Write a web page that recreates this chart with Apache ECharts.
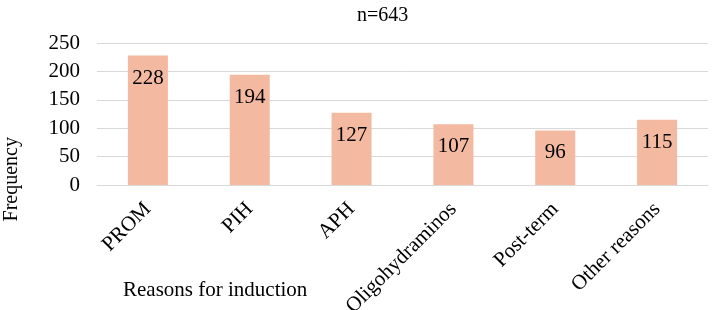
<!DOCTYPE html>
<html>
<head>
<meta charset="utf-8">
<script src="https://cdn.jsdelivr.net/npm/echarts@6/dist/echarts.min.js"></script>
<style>
  html, body { margin: 0; padding: 0; background: #fff; }
  #box { width: 712px; height: 310px; }
</style>
</head>
<body>
<div id="box"></div>
<script>
var categories = ["PROM", "PIH", "APH", "Oligohydraminos", "Post-term", "Other reasons"];
var frequency = [228, 194, 127, 107, 96, 115];
var yTicks = [0, 50, 100, 150, 200, 250];

var serif = "Liberation Serif";
var myChart = echarts.init(document.getElementById("box"));

var option = {
  animation: false,
  title: {
    text: "n=643",
    left: 352,
    top: 1,
    textStyle: { fontFamily: serif, fontSize: 20, fontWeight: "normal", color: "#000" }
  },
  grid: { left: 97, right: 4, top: 43, bottom: 125, outerBoundsMode: "none", containLabel: false },
  xAxis: {
    type: "category",
    data: categories,
    axisLine: { lineStyle: { color: "#d9d9d9" } },
    axisTick: { show: false },
    axisLabel: {
      rotate: 45,
      interval: 0,
      margin: 21,
      fontFamily: serif,
      fontSize: 21,
      color: "#000"
    }
  },
  yAxis: {
    type: "value",
    min: yTicks[0],
    max: yTicks[yTicks.length - 1],
    interval: 50,
    axisLine: { show: false },
    axisTick: { show: false },
    splitLine: { lineStyle: { color: "#d9d9d9" } },
    axisLabel: { fontFamily: serif, fontSize: 21, color: "#000", margin: 17 }
  },
  graphic: [
    {
      type: "text",
      left: 2,
      top: 137,
      rotation: Math.PI / 2,
      style: { text: "Frequency", font: "20px 'Liberation Serif'", fill: "#000" }
    },
    {
      type: "text",
      left: 123,
      top: 280,
      style: { text: "Reasons for induction", font: "21px 'Liberation Serif'", fill: "#000" }
    }
  ],
  series: [
    {
      type: "bar",
      data: frequency,
      barWidth: 40,
      itemStyle: { color: "#F4B9A1" },
      label: {
        show: true,
        position: "insideTop",
        distance: 12,
        fontFamily: serif,
        fontSize: 21,
        color: "#000"
      }
    }
  ]
};

myChart.setOption(option);
</script>
</body>
</html>
